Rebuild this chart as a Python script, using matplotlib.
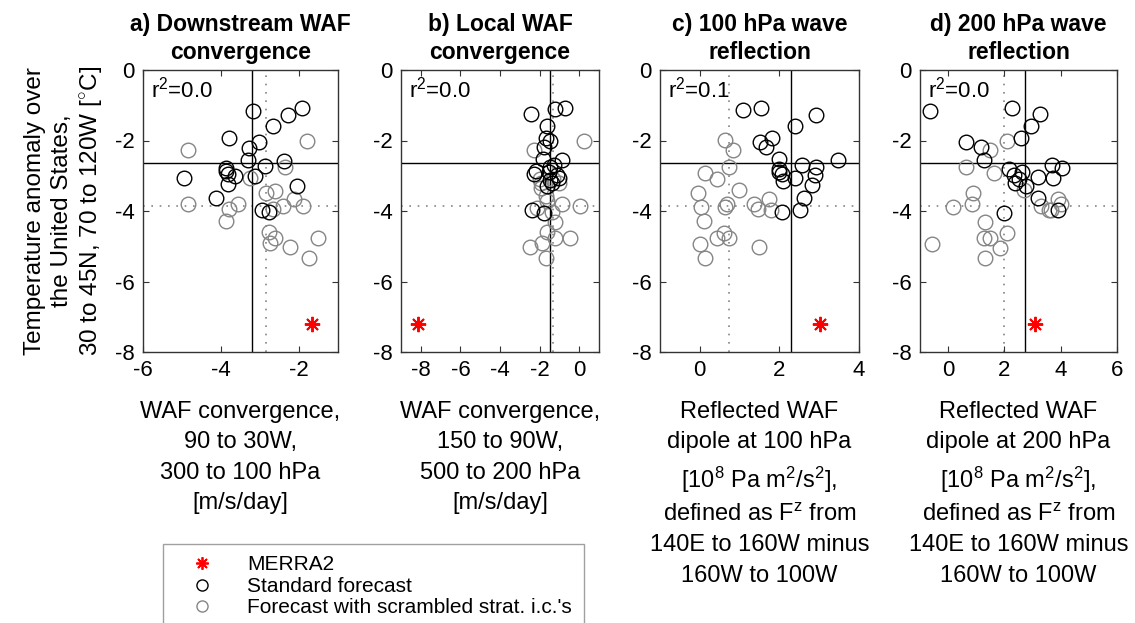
import numpy as np
import matplotlib
matplotlib.use("Agg")
import matplotlib.pyplot as plt
from matplotlib.lines import Line2D

plt.rcParams['font.family'] = ['Liberation Sans', 'DejaVu Sans']
plt.rcParams['mathtext.fontset'] = 'custom'
plt.rcParams['mathtext.rm'] = 'Liberation Sans'
plt.rcParams['mathtext.it'] = 'Liberation Sans'
plt.rcParams['axes.unicode_minus'] = False

# ---- data ----
titles = ['a) Downstream WAF\nconvergence', 'b) Local WAF\nconvergence',
          'c) 100 hPa wave\nreflection', 'd) 200 hPa wave\nreflection']
xlabels = ['WAF convergence,\n90 to 30W,\n300 to 100 hPa\n[m/s/day]',
           'WAF convergence,\n150 to 90W,\n500 to 200 hPa\n[m/s/day]',
           'Reflected WAF\ndipole at 100 hPa\n[10$^8$ Pa m$^2$/s$^2$],\ndefined as F$^z$ from\n140E to 160W minus\n160W to 100W',
           'Reflected WAF\ndipole at 200 hPa\n[10$^8$ Pa m$^2$/s$^2$],\ndefined as F$^z$ from\n140E to 160W minus\n160W to 100W']
r2_vals = [0.0, 0.0, 0.1, 0.0]
xlims = [(-6, -1), (-9, 1), (-1, 4), (-1, 6)]
xticks = [[-6, -4, -2], [-8, -6, -4, -2, 0], [0, 2, 4], [0, 2, 4, 6]]

std_x_a = [-3.17, -1.93, -2.29, -2.66, -3.79, -3.02, -3.27, -3.32, -2.38, -2.88, -3.87,
           -3.86, -3.83, -3.65, -3.13, -4.94, -3.81, -2.04, -4.13, -2.95, -2.77]
std_y_a = [-1.16, -1.07, -1.28, -1.58, -1.94, -2.04, -2.20, -2.54, -2.58, -2.71, -2.77,
           -2.86, -2.94, -3.01, -3.01, -3.05, -3.24, -3.28, -3.63, -3.98, -4.03]
scr_x_a = [-4.84, -1.80, -2.37, -3.26, -2.85, -2.61, -4.85, -3.57, -3.79, -2.13, -2.42,
           -1.91, -2.66, -3.86, -2.78, -2.62, -2.75, -2.24, -1.52, -1.74]
scr_y_a = [-2.27, -2.00, -2.75, -3.05, -3.50, -3.43, -3.81, -3.81, -3.93, -3.67, -3.86,
           -3.85, -3.95, -4.28, -4.59, -4.78, -4.92, -5.02, -4.78, -5.33]

std_x_b = [-2.45, -1.20, -0.70, -1.62, -1.70, -1.45, -1.78, -1.82, -0.87, -1.28, -2.20,
           -2.28, -1.53, -1.12, -1.03, -1.45, -1.37, -1.62, -2.37, -1.78, -1.50]
std_y_b = [-1.26, -1.11, -1.07, -1.58, -1.94, -2.01, -2.18, -2.52, -2.55, -2.70, -2.87,
           -2.96, -2.88, -2.98, -3.07, -3.12, -3.21, -3.30, -3.98, -4.05, -2.75]
scr_x_b = [-2.28, 0.22, -1.95, -1.95, -1.70, -1.62, -0.87, 0.05, -2.15, -1.37, -1.20,
           -1.62, -1.20, -0.48, -2.48, -1.87, -1.70, -1.30, -1.00, -2.00]
scr_y_b = [-2.27, -2.01, -3.20, -3.36, -3.57, -3.71, -3.80, -3.86, -3.92, -4.02, -4.30,
           -4.59, -4.78, -4.78, -5.01, -4.92, -5.34, -3.10, -3.20, -3.10]

std_x_c = [1.08, 1.54, 2.92, 2.38, 1.81, 1.52, 1.67, 1.98, 2.56, 2.92, 2.00,
           3.48, 2.06, 2.39, 2.89, 2.08, 2.83, 2.62, 2.06, 2.53, 2.00]
std_y_c = [-1.13, -1.07, -1.28, -1.58, -1.92, -2.03, -2.18, -2.52, -2.70, -2.74, -2.81,
           -2.55, -2.96, -3.05, -2.98, -3.15, -3.26, -3.64, -4.02, -3.97, -2.90]
scr_x_c = [0.63, 0.83, 0.73, 0.13, 0.42, -0.04, 0.98, 0.02, 0.64, 0.68, 1.35,
           1.45, 1.75, 1.78, 0.10, 0.00, 0.14, 0.42, 0.62, 0.73, 1.48]
scr_y_c = [-1.99, -2.27, -2.75, -2.92, -3.08, -3.50, -3.41, -3.88, -3.88, -3.81, -3.81,
           -3.93, -3.67, -3.98, -4.28, -4.95, -5.33, -4.78, -4.62, -4.78, -5.02]

std_x_d = [-0.63, 2.26, 3.27, 2.95, 2.60, 0.64, 1.15, 1.26, 2.17, 3.69, 4.04,
           2.62, 2.33, 2.39, 3.18, 3.72, 2.78, 3.21, 3.92, 1.97, 2.50]
std_y_d = [-1.16, -1.09, -1.26, -1.58, -1.94, -2.04, -2.18, -2.56, -2.82, -2.70, -2.77,
           -2.89, -2.98, -3.20, -3.03, -3.06, -3.30, -3.62, -3.98, -4.05, -3.10]
scr_x_d = [2.09, 1.47, 0.64, 1.62, 0.89, 0.85, 0.16, 2.68, 3.30, 3.60, 3.65,
           3.92, 4.00, 1.32, 2.09, 1.26, 1.50, 1.85, 1.32, -0.59]
scr_y_d = [-2.01, -2.27, -2.75, -2.92, -3.50, -3.81, -3.88, -3.41, -3.86, -3.96, -3.98,
           -3.67, -3.81, -4.31, -4.62, -4.76, -4.78, -5.04, -5.33, -4.95]

merra_x = [-1.67, -8.15, 3.03, 3.10]
merra_y = [-7.2, -7.2, -7.2, -7.2]

# ensemble means (solid = standard, dotted = scrambled)
std_mean_x = [-3.21, -1.50, 2.28, 2.72]
scr_mean_x = [-2.84, -1.32, 0.74, 1.99]
std_mean_y = -2.65
scr_mean_y = -3.86

std_x = [std_x_a, std_x_b, std_x_c, std_x_d]
std_y = [std_y_a, std_y_b, std_y_c, std_y_d]
scr_x = [scr_x_a, scr_x_b, scr_x_c, scr_x_d]
scr_y = [scr_y_a, scr_y_b, scr_y_c, scr_y_d]

GRAY = '#858585'
W, H = 1135, 623
fig = plt.figure(figsize=(W / 100, H / 100), dpi=100)

lefts = [143, 401, 660, 920]
widths = [195, 198, 199, 197]
top, bottom = 70, 352

for i in range(4):
    ax = fig.add_axes([lefts[i] / W, 1 - bottom / H, widths[i] / W, (bottom - top) / H])
    ax.axhline(std_mean_y, color='black', lw=1.0, zorder=1)
    ax.axhline(scr_mean_y, color=GRAY, lw=1.2, ls=(0, (1, 4)), zorder=1)
    ax.axvline(std_mean_x[i], color='black', lw=1.0, zorder=1)
    ax.axvline(scr_mean_x[i], color=GRAY, lw=1.2, ls=(0, (1, 4)), zorder=1)

    ax.plot(scr_x[i], scr_y[i], 'o', ms=10.5, mfc='none', mec=GRAY, mew=1.0, zorder=2)
    ax.plot(std_x[i], std_y[i], 'o', ms=10.5, mfc='none', mec='black', mew=1.0, zorder=3)
    ax.plot(merra_x[i], merra_y[i], marker=(8, 2, 0), ms=11, color='red', mew=1.4, ls='none', zorder=4)

    ax.set_xlim(*xlims[i])
    ax.set_ylim(-8, 0)
    ax.set_xticks(xticks[i])
    ax.set_yticks([0, -2, -4, -6, -8])
    ax.tick_params(direction='in', top=True, right=True, length=4, labelsize=16,
                   color='#333333', pad=6)
    for s in ax.spines.values():
        s.set_color('#333333')
        s.set_linewidth(1.0)

    ax.text(0.04, 0.975, 'r$^2$=%.1f' % r2_vals[i], transform=ax.transAxes,
            ha='left', va='top', fontsize=16)
    ax.set_title(titles[i], fontsize=16.5, fontweight='bold', pad=8, linespacing=1.25)
    ax.set_xlabel(xlabels[i], fontsize=17, linespacing=1.5, labelpad=14)
    if i == 0:
        ax.set_ylabel('Temperature anomaly over\nthe United States,\n30 to 45N, 70 to 120W [$^{\\circ}$C]',
                      fontsize=17.5, linespacing=1.27, labelpad=8)

handles = [
    Line2D([], [], marker=(8, 2, 0), color='red', ls='none', ms=9, mew=1.3),
    Line2D([], [], marker='o', mfc='none', mec='black', ls='none', ms=8, mew=1.0),
    Line2D([], [], marker='o', mfc='none', mec=GRAY, ls='none', ms=8, mew=1.0),
]
labels = ['MERRA2', 'Standard forecast', "Forecast with scrambled strat. i.c.'s"]
leg = fig.legend(handles, labels, loc='upper left', bbox_to_anchor=(163 / W, 1 - 544 / H),
                 fontsize=15, frameon=True, fancybox=False, edgecolor='#888888',
                 handlelength=2.6, handletextpad=0.9, borderpad=0.55, labelspacing=0.12,
                 borderaxespad=0)
leg.get_frame().set_linewidth(1.0)

fig.savefig('out.png', dpi=100)
